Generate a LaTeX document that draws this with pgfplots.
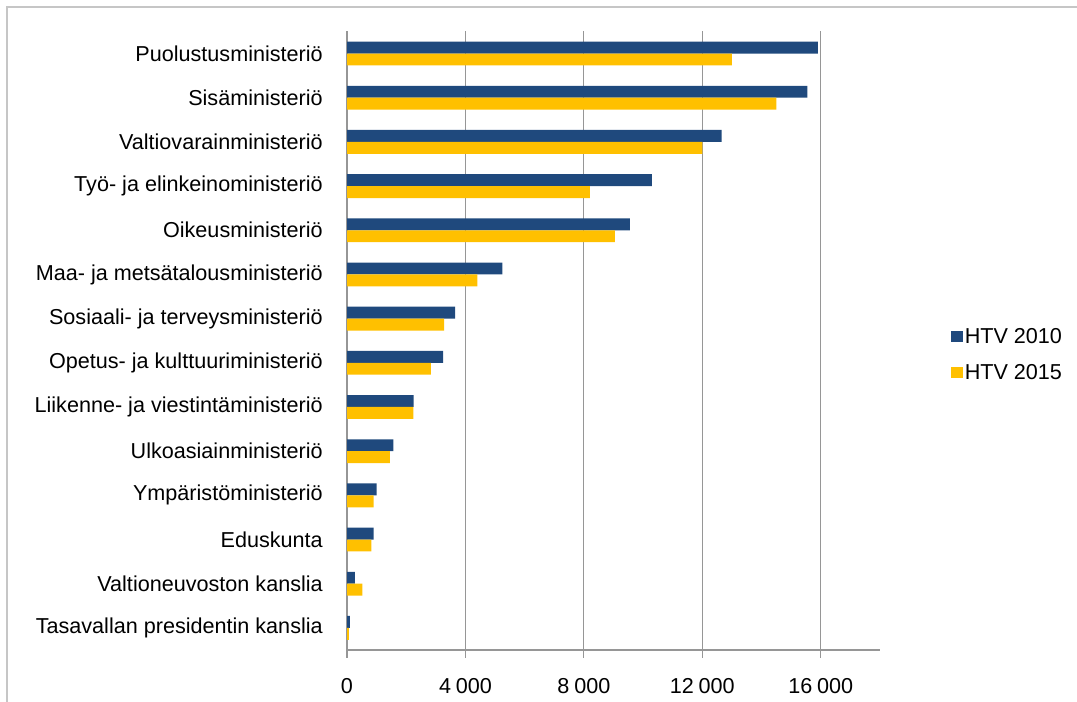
\documentclass[border=0pt]{standalone}
\usepackage{pgfplots}
\pgfplotsset{compat=1.18}
\usepackage{fontspec}
\setmainfont{Liberation Sans}
\definecolor{htvblue}{RGB}{31,73,125}
\definecolor{htvyellow}{RGB}{255,192,0}
\definecolor{axgray}{RGB}{150,150,150}
\newcommand{\chartfont}{\fontsize{16.2}{19.4}\selectfont}

% 0 = bottom category, 13 = top
\pgfplotstableread{
y   h2010  h2015
13  15900  13000
12  15550  14500
11  12650  12000
10  10300   8200
9    9550   9050
8    5250   4400
7    3650   3280
6    3250   2830
5    2250   2240
4    1570   1450
3    1000    900
2     900    820
1     270    520
0     100     60
}\datatable

\begin{document}
\begin{tikzpicture}
  \path[use as bounding box] (0,0) rectangle (807.75pt,526.5pt);
  \draw[gray!45, line width=1.5pt] (4.9pt,0) -- (4.9pt,521.6pt) -- (807.75pt,521.6pt);
  \begin{axis}[
      at={(260.25pt,39pt)}, anchor=south west,
      scale only axis,
      width=399.75pt, height=463.9pt,
      xbar, bar width=0.27,
      xmin=0, xmax=18000,
      ymin=-0.5, ymax=13.5,
      axis x line*=bottom, axis y line*=left,
      axis line style={axgray, line width=0.9pt},
      xmajorgrids,
      major grid style={axgray, line width=0.9pt},
      tick align=outside,
      xtick={0,4000,8000,12000,16000},
      scaled x ticks=false,
      major tick length=6pt,
      ytick={0,...,13},
      ytick style={draw=none},
      minor ytick={-0.5,0.5,...,13.5},
      minor tick length=5.25pt,
      tick style={axgray, line width=0.9pt},
      /pgf/number format/1000 sep={\hspace{0.22em}},
      /pgf/number format/assume math mode=true,
      xticklabel style={font=\chartfont, inner sep=0pt, yshift=-15pt},
      yticklabel style={font=\chartfont, inner sep=0pt, xshift=-12pt},
      yticklabels={
        Tasavallan presidentin kanslia,
        Valtioneuvoston kanslia,
        Eduskunta,
        Ympäristöministeriö,
        Ulkoasiainministeriö,
        Liikenne- ja viestintäministeriö,
        Opetus- ja kulttuuriministeriö,
        Sosiaali- ja terveysministeriö,
        Maa- ja metsätalousministeriö,
        Oikeusministeriö,
        Työ- ja elinkeinoministeriö,
        Valtiovarainministeriö,
        Sisäministeriö,
        Puolustusministeriö},
      legend style={
        at={(1.126,0.477)}, anchor=west,
        draw=none, fill=none,
        font=\chartfont,
        row sep=11pt,
        nodes={inner sep=1.5pt},
      },
      legend cell align=left,
      legend image code/.code={\fill[#1, draw=none] (0pt,-4pt) rectangle (8.5pt,4.5pt);},
    ]
    \addplot[fill=htvblue, draw=none, bar shift=0.135] table[x=h2010, y=y] {\datatable};
    \addplot[fill=htvyellow, draw=none, bar shift=-0.135] table[x=h2015, y=y] {\datatable};
    \legend{HTV 2010, HTV 2015}
  \end{axis}
\end{tikzpicture}
\end{document}
